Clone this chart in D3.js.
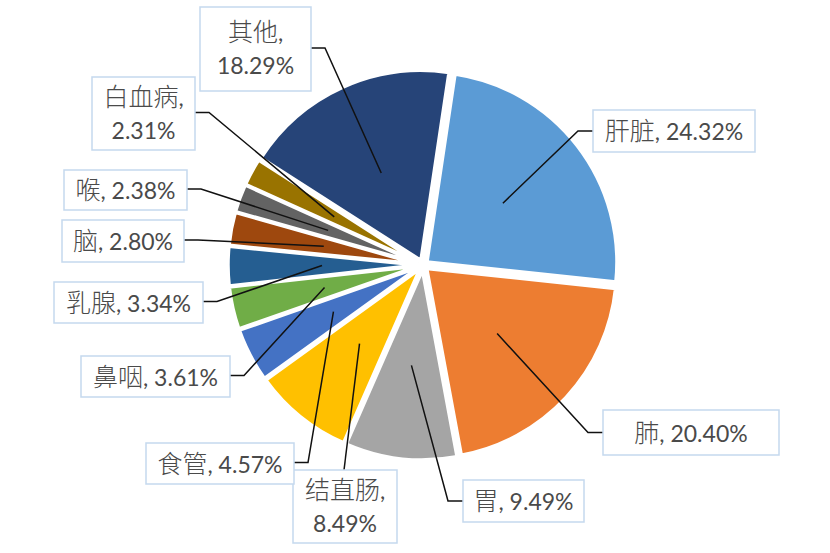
<!DOCTYPE html>
<html>
<head>
<meta charset="utf-8">
<script src="https://cdn.jsdelivr.net/npm/d3@7"></script>
<style>
html,body{margin:0;padding:0;background:#fff;}
svg{display:block;}
</style>
</head>
<body>
<svg id="chart" width="830" height="553"></svg>
<script>
// ---- data ----
const categories = ["肝脏","肺","胃","结直肠","食管","鼻咽","乳腺","脑","喉","白血病","其他"];
const values = [24.32, 20.40, 9.49, 8.49, 4.57, 3.61, 3.34, 2.80, 2.38, 2.31, 18.29];
const valueLabels = ["24.32%","20.40%","9.49%","8.49%","4.57%","3.61%","3.34%","2.80%","2.38%","2.31%","18.29%"];

// ---- styles ----
const colors = ["#5B9BD5","#ED7D31","#A5A5A5","#FFC000","#4472C4","#70AD47","#255E91","#9E480E","#636363","#997300","#264478"];

// ---- layout (label boxes: centre x, centre y, width, height, lines, leader anchor side) ----
const labelLayout = [
  {cx:674,   cy:131,   w:162, h:42, two:false, side:"left"},   // 肝脏
  {cx:691,   cy:432.5, w:176, h:45, two:false, side:"left"},   // 肺
  {cx:523.5, cy:501,   w:121, h:42, two:false, side:"left"},   // 胃
  {cx:345,   cy:506.5, w:104, h:73, two:true,  side:"top"},    // 结直肠
  {cx:220,   cy:463.5, w:148, h:41, two:false, side:"right"},  // 食管
  {cx:155.5, cy:376.5, w:149, h:41, two:false, side:"right"},  // 鼻咽
  {cx:128.5, cy:302.5, w:149, h:41, two:false, side:"right"},  // 乳腺
  {cx:123,   cy:241,   w:122, h:42, two:false, side:"right"},  // 脑
  {cx:125.5, cy:190,   w:123, h:40, two:false, side:"right"},  // 喉
  {cx:143.5, cy:113.5, w:103, h:73, two:true,  side:"right"},  // 白血病
  {cx:255.5, cy:49,    w:111, h:84, two:true,  side:"right"}   // 其他
];

const W = 830, H = 553;
const cx = 423, cy = 265, R = 190, explode = 5, leaderR = 96;
const startDeg = 8.5;
const CJK = "'Noto Sans CJK SC','Noto Sans',sans-serif";
const LAT = "Lato,'Noto Sans',sans-serif";
const textColor = "#4a4a4a";

const svg = d3.select("#chart");
svg.append("rect").attr("width", W).attr("height", H).attr("fill", "#fff");

const data = categories.map((c, i) => ({name: c, value: values[i], label: valueLabels[i], color: colors[i], layout: labelLayout[i]}));

const pie = d3.pie().sort(null).value(d => d.value)
  .startAngle(startDeg * Math.PI / 180)
  .endAngle((startDeg + 360) * Math.PI / 180);
const arcs = pie(data);
const arc = d3.arc().innerRadius(0).outerRadius(R);

const g = svg.append("g").attr("transform", `translate(${cx},${cy})`);

g.selectAll("path.slice").data(arcs).join("path")
  .attr("class", "slice")
  .attr("d", arc)
  .attr("fill", d => d.data.color)
  .attr("stroke", "#fff")
  .attr("stroke-width", 3.5)
  .attr("stroke-linejoin", "miter")
  .attr("transform", d => {
    const a = (d.startAngle + d.endAngle) / 2;
    return `translate(${explode * Math.sin(a)},${-explode * Math.cos(a)})`;
  });

// leader lines
const lines = svg.append("g");
arcs.forEach(d => {
  const a = (d.startAngle + d.endAngle) / 2;
  const px = cx + (explode + leaderR) * Math.sin(a);
  const py = cy - (explode + leaderR) * Math.cos(a);
  const L = d.data.layout;
  let pts;
  if (L.side === "top") {
    pts = [[L.cx - 1, L.cy - L.h / 2], [px, py]];
  } else if (L.side === "left") {
    const x0 = L.cx - L.w / 2;
    const yy = L.two ? L.cy - 1 : L.cy;
    pts = [[x0, yy], [x0 - 15, yy], [px, py]];
  } else {
    const x0 = L.cx + L.w / 2;
    const yy = L.cy - 1;
    pts = [[x0, yy], [x0 + 14, yy], [px, py]];
  }
  lines.append("path")
    .attr("d", d3.line()(pts))
    .attr("fill", "none")
    .attr("stroke", "#111")
    .attr("stroke-width", 1.5);
});

// label boxes
const labels = svg.append("g");
arcs.forEach(d => {
  const L = d.data.layout;
  const lg = labels.append("g");
  lg.append("rect")
    .attr("x", L.cx - L.w / 2).attr("y", L.cy - L.h / 2)
    .attr("width", L.w).attr("height", L.h)
    .attr("fill", "#fff")
    .attr("stroke", "#C5D9EE")
    .attr("stroke-width", 1.5);
  if (L.two) {
    const t1 = lg.append("text").attr("x", L.cx).attr("y", L.cy - 8)
      .attr("text-anchor", "middle").attr("fill", textColor);
    t1.append("tspan").attr("font-family", CJK).attr("font-weight", 300).attr("font-size", 25).text(d.data.name);
    t1.append("tspan").attr("font-family", LAT).attr("font-size", 23).text(",");
    lg.append("text").attr("x", L.cx).attr("y", L.cy + 25)
      .attr("text-anchor", "middle").attr("fill", textColor)
      .attr("font-family", LAT).attr("font-size", 23).text(d.data.label);
  } else {
    const t = lg.append("text").attr("x", L.cx).attr("y", L.cy + 9)
      .attr("text-anchor", "middle").attr("fill", textColor);
    t.append("tspan").attr("font-family", CJK).attr("font-weight", 300).attr("font-size", 25).text(d.data.name);
    t.append("tspan").attr("font-family", LAT).attr("font-size", 23).attr("xml:space", "preserve").text(", " + d.data.label);
  }
});
</script>
</body>
</html>
